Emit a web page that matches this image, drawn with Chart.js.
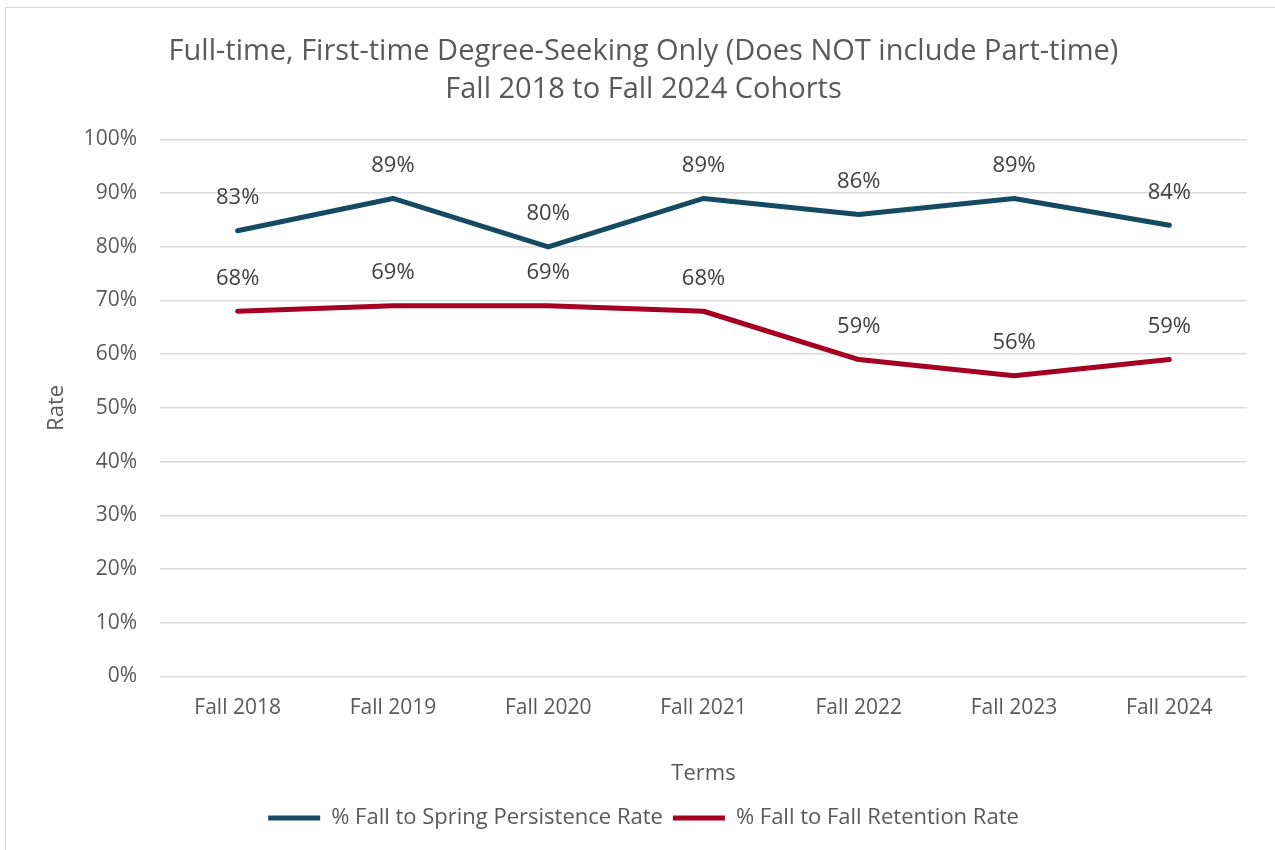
<!DOCTYPE html>
<html>
<head>
<meta charset="utf-8">
<script src="https://cdn.jsdelivr.net/npm/chart.js@4"></script>
<style>
  html, body { margin: 0; padding: 0; background: #fff; overflow: hidden; }
  .frame { position: absolute; left: 5px; top: 7px; width: 1290px; height: 860px; border: 1.5px solid #d9d9d9; box-sizing: border-box; }
  .wrap { position: absolute; left: 0; top: 0; width: 1275px; height: 850px; }
</style>
</head>
<body>
<div class="frame"></div>
<div class="wrap"><canvas id="retentionChart"></canvas></div>
<script>
// Chart data
const terms = ['Fall 2018', 'Fall 2019', 'Fall 2020', 'Fall 2021', 'Fall 2022', 'Fall 2023', 'Fall 2024'];
const persistence = [83, 89, 80, 89, 86, 89, 84];
const retention = [68, 69, 69, 68, 59, 56, 59];
const titleLines = ['Full-time, First-time Degree-Seeking Only (Does NOT include Part-time)', 'Fall 2018 to Fall 2024 Cohorts'];

const FONT = "'Open Sans', 'Liberation Sans', sans-serif";
const TEXT = '#595959';

// simple data labels above every point
const pointLabels = {
  id: 'pointLabels',
  afterDatasetsDraw(chart) {
    const ctx = chart.ctx;
    ctx.save();
    ctx.font = `22px ${FONT}`;
    ctx.fillStyle = '#404040';
    ctx.textAlign = 'center';
    ctx.textBaseline = 'middle';
    chart.data.datasets.forEach((ds, i) => {
      chart.getDatasetMeta(i).data.forEach((pt, j) => {
        ctx.fillText(ds.data[j] + '%', pt.x, pt.y - 33);
      });
    });
    ctx.restore();
  }
};

new Chart(document.getElementById('retentionChart').getContext('2d'), {
  type: 'line',
  data: {
    labels: terms,
    datasets: [{
      label: '% Fall to Spring Persistence Rate',
      data: persistence,
      borderColor: '#154B62',
      backgroundColor: '#154B62',
      borderWidth: 5,
      borderCapStyle: 'round',
      borderJoinStyle: 'round',
      pointRadius: 0,
      tension: 0
    }, {
      label: '% Fall to Fall Retention Rate',
      data: retention,
      borderColor: '#A50021',
      backgroundColor: '#A50021',
      borderWidth: 5,
      borderCapStyle: 'round',
      borderJoinStyle: 'round',
      pointRadius: 0,
      tension: 0
    }]
  },
  options: {
    responsive: true,
    maintainAspectRatio: false,
    animation: false,
    layout: { padding: { left: 40, right: 28, top: 0, bottom: 11 } },
    plugins: {
      title: {
        display: true,
        text: titleLines,
        color: TEXT,
        font: { family: FONT, size: 29, weight: 'normal', lineHeight: 1.3 },
        padding: { top: 33, bottom: 31 }
      },
      legend: {
        position: 'bottom',
        labels: {
          color: TEXT,
          font: { family: FONT, size: 22 },
          usePointStyle: true,
          pointStyle: 'line',
          pointStyleWidth: 52,
          boxHeight: 10,
          padding: 10
        }
      },
      tooltip: { enabled: false }
    },
    scales: {
      x: {
        offset: true,
        grid: { display: false },
        border: { display: false },
        ticks: { color: TEXT, font: { family: FONT, size: 21 }, padding: 11, maxRotation: 0 },
        title: {
          display: true,
          text: 'Terms',
          color: TEXT,
          font: { family: FONT, size: 22 },
          padding: { top: 29, bottom: 10 }
        }
      },
      y: {
        min: 0,
        max: 100,
        afterFit: s => { s.width = 120; },
        ticks: {
          stepSize: 10,
          color: TEXT,
          font: { family: FONT, size: 21 },
          padding: 23,
          callback: v => v + '%'
        },
        grid: { color: '#d9d9d9', lineWidth: 1.5, drawTicks: false },
        border: { display: false },
        title: {
          display: true,
          text: 'Rate',
          color: TEXT,
          font: { family: FONT, size: 22 },
          padding: { top: 4, bottom: 0 }
        }
      }
    }
  },
  plugins: [pointLabels]
});
</script>
</body>
</html>
